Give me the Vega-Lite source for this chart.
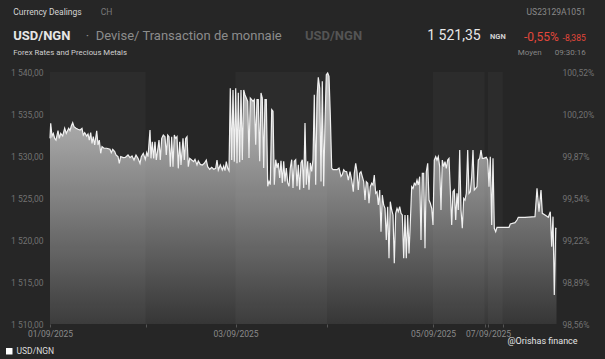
{
"$schema":"https://vega.github.io/schema/vega-lite/v6.json",
"width":507,"height":252,
"autosize":{"type":"none"},
"padding":{"left":50,"top":72,"right":48,"bottom":35},
"background":"#262626",
"config":{"view":{"stroke":null},"font":"Roboto"},
"datasets":{
"series":[
{"t":0,"v":1532.10},{"t":0.7,"v":1533.89},{"t":2,"v":1532.38},{"t":3.3,"v":1532.70},{"t":4.7,"v":1532.10},{"t":6,"v":1531.90},{"t":8,"v":1533.01},{"t":9.3,"v":1532.10},{"t":10.7,"v":1532.70},{"t":12.7,"v":1532.38},{"t":14.7,"v":1533.30},{"t":16.3,"v":1532.70},{"t":18.7,"v":1533.30},{"t":20,"v":1533.01},{"t":21.3,"v":1533.57},{"t":22.7,"v":1533.97},{"t":24,"v":1533.49},{"t":26,"v":1533.30},{"t":28,"v":1533.18},{"t":30,"v":1533.10},{"t":32,"v":1533.30},{"t":33.3,"v":1532.50},{"t":34.7,"v":1532.78},{"t":36.7,"v":1532.38},{"t":38,"v":1532.62},{"t":39.3,"v":1531.90},{"t":40.7,"v":1532.78},{"t":42,"v":1531.51},{"t":43.3,"v":1532.30},{"t":44.7,"v":1531.31},{"t":46.7,"v":1533.01},{"t":48,"v":1531.31},{"t":49.3,"v":1531.90},{"t":50.7,"v":1530.32},{"t":52,"v":1531.11},{"t":54,"v":1530.92},{"t":56.7,"v":1530.92},{"t":60,"v":1530.80},{"t":61.3,"v":1530.40},{"t":62.7,"v":1530.80},{"t":64.7,"v":1530.52},{"t":66,"v":1530.12},{"t":68,"v":1529.92},{"t":69.3,"v":1529.13},{"t":70.7,"v":1529.92},{"t":73.3,"v":1529.80},{"t":75.3,"v":1529.84},{"t":78,"v":1530.12},{"t":80,"v":1529.80},{"t":82,"v":1530.00},{"t":84,"v":1529.52},{"t":86,"v":1530.12},{"t":88,"v":1529.72},{"t":90,"v":1529.13},{"t":91.3,"v":1529.92},{"t":93.3,"v":1530.32},{"t":95.3,"v":1529.60},{"t":96.7,"v":1530.40},{"t":98,"v":1529.92},
{"t":100,"v":1533.10},{"t":101,"v":1529.72},{"t":102.3,"v":1531.70},{"t":103.7,"v":1529.72},{"t":105,"v":1531.70},{"t":106.3,"v":1529.52},{"t":107.7,"v":1530.71},{"t":109,"v":1531.90},{"t":110.3,"v":1529.52},{"t":111.7,"v":1532.10},{"t":113.3,"v":1532.50},{"t":115,"v":1532.30},{"t":116.3,"v":1530.12},{"t":117.7,"v":1532.50},{"t":119,"v":1532.30},{"t":120.3,"v":1528.73},{"t":121.7,"v":1532.30},{"t":123,"v":1528.73},{"t":124.3,"v":1532.50},{"t":125.7,"v":1532.10},{"t":127,"v":1532.30},{"t":128.3,"v":1528.53},{"t":129.7,"v":1531.70},{"t":131,"v":1528.93},{"t":133,"v":1532.10},{"t":134.3,"v":1529.52},{"t":135.7,"v":1532.10},{"t":137,"v":1532.30},{"t":138.3,"v":1528.73},{"t":139.7,"v":1529.72},{"t":141.7,"v":1529.52},{"t":143.7,"v":1529.33},{"t":145,"v":1529.60},{"t":147,"v":1528.93},{"t":148.3,"v":1529.40},{"t":150.3,"v":1529.00},{"t":152.3,"v":1528.93},{"t":154.3,"v":1529.13},{"t":156.3,"v":1529.52},{"t":157.7,"v":1528.73},{"t":159.7,"v":1528.42},{"t":161.7,"v":1528.65},{"t":163.7,"v":1528.42},{"t":165.7,"v":1528.53},{"t":167,"v":1529.52},{"t":168.3,"v":1528.33},{"t":170.3,"v":1528.93},{"t":172.3,"v":1528.33},{"t":173.7,"v":1528.81},{"t":175,"v":1528.25},{"t":176.3,"v":1529.33},{"t":177.7,"v":1528.53},{"t":179,"v":1528.25},{"t":180.3,"v":1538.06},{"t":181.7,"v":1529.52},{"t":183,"v":1537.86},{"t":184.3,"v":1529.33},{"t":185.7,"v":1538.06},{"t":187,"v":1529.13},{"t":188.3,"v":1537.54},{"t":189.7,"v":1529.25},{"t":191,"v":1537.86},{"t":192.3,"v":1529.52},{"t":193.7,"v":1537.86},{"t":195,"v":1537.26},
{"t":196.3,"v":1536.90},{"t":197.7,"v":1536.51},{"t":199,"v":1529.76},{"t":200.3,"v":1536.90},{"t":201.7,"v":1536.70},{"t":203,"v":1536.51},{"t":204.3,"v":1536.70},{"t":205.7,"v":1531.35},{"t":207,"v":1536.70},{"t":208.3,"v":1536.70},{"t":209.7,"v":1529.37},{"t":211,"v":1537.50},{"t":212.3,"v":1536.90},{"t":213.7,"v":1528.57},{"t":215,"v":1536.70},{"t":216.3,"v":1536.70},{"t":217.7,"v":1526.39},{"t":219,"v":1526.98},{"t":220.3,"v":1526.59},{"t":221.7,"v":1535.51},{"t":223,"v":1535.32},{"t":224.3,"v":1526.59},{"t":225.7,"v":1529.56},{"t":227,"v":1528.57},{"t":228.3,"v":1529.17},{"t":229.7,"v":1527.38},{"t":231,"v":1529.44},{"t":232.3,"v":1526.79},{"t":233.7,"v":1529.37},{"t":235,"v":1526.98},{"t":236.3,"v":1528.57},{"t":237.7,"v":1526.79},{"t":239,"v":1526.39},{"t":240.3,"v":1528.57},{"t":241.7,"v":1529.56},{"t":243,"v":1526.19},{"t":244.3,"v":1529.37},{"t":245.7,"v":1529.56},{"t":247,"v":1526.39},{"t":248.3,"v":1528.96},{"t":249.7,"v":1525.99},{"t":251,"v":1529.17},{"t":252.3,"v":1529.56},{"t":253.7,"v":1526.19},{"t":255,"v":1533.93},{"t":256.3,"v":1526.59},{"t":257.7,"v":1529.37},{"t":259,"v":1525.99},{"t":260.3,"v":1529.17},{"t":261.7,"v":1528.17},{"t":263,"v":1529.56},{"t":264.3,"v":1537.30},{"t":265.7,"v":1526.59},{"t":267,"v":1536.90},{"t":268.3,"v":1539.37},{"t":269.7,"v":1538.10},{"t":271,"v":1526.98},{"t":272.3,"v":1538.89},{"t":273.7,"v":1526.39},{"t":275,"v":1533.93},{"t":276.3,"v":1539.68},{"t":277.7,"v":1539.88},{"t":279,"v":1539.49},{"t":280.3,"v":1534.92},{"t":281.7,"v":1528.57},{"t":283,"v":1528.37},{"t":285,"v":1528.37},{"t":287,"v":1528.37},{"t":289,"v":1528.57},{"t":291,"v":1527.58},{"t":292.3,"v":1527.78},{"t":293.7,"v":1528.37},{"t":295,"v":1528.17},
{"t":296.7,"v":1528.13},{"t":298.3,"v":1527.14},{"t":300,"v":1528.13},{"t":301.7,"v":1527.14},{"t":303.3,"v":1525.75},{"t":304.3,"v":1527.94},{"t":305.7,"v":1529.13},{"t":307,"v":1528.13},{"t":308.3,"v":1525.95},{"t":309.7,"v":1527.94},{"t":311,"v":1528.13},{"t":312.3,"v":1527.54},{"t":313.7,"v":1526.94},{"t":315,"v":1524.76},{"t":316.3,"v":1526.94},{"t":317.7,"v":1526.75},{"t":319,"v":1524.37},{"t":320.3,"v":1526.35},{"t":321.7,"v":1526.75},{"t":323,"v":1526.55},{"t":324.3,"v":1527.74},{"t":325.7,"v":1525.56},{"t":327,"v":1525.75},{"t":328.3,"v":1524.17},{"t":329.7,"v":1525.95},{"t":331,"v":1520.99},{"t":332.3,"v":1525.36},{"t":333.7,"v":1524.17},{"t":335,"v":1523.77},{"t":336.3,"v":1520.00},{"t":337.7,"v":1523.97},{"t":339,"v":1517.82},{"t":340.3,"v":1524.56},{"t":341.7,"v":1523.57},{"t":343,"v":1522.98},{"t":344.3,"v":1517.22},{"t":345.7,"v":1523.18},{"t":347,"v":1523.77},{"t":348.3,"v":1523.37},{"t":349.7,"v":1523.97},{"t":351,"v":1523.18},{"t":352.3,"v":1522.98},{"t":353.7,"v":1517.82},{"t":355,"v":1522.98},{"t":356.3,"v":1517.82},{"t":357.7,"v":1522.98},{"t":359,"v":1518.41},{"t":360.3,"v":1521.99},{"t":361.7,"v":1526.35},{"t":363,"v":1526.15},{"t":364.3,"v":1526.75},{"t":365.7,"v":1526.55},{"t":367,"v":1527.14},{"t":368.3,"v":1526.55},{"t":369.7,"v":1527.54},{"t":371,"v":1520.00},{"t":372.3,"v":1527.94},{"t":373.7,"v":1527.94},{"t":375,"v":1519.01},{"t":376.3,"v":1528.13},{"t":377.7,"v":1529.13},{"t":379,"v":1524.76},{"t":380.3,"v":1524.37},{"t":381.7,"v":1523.77},{"t":383,"v":1521.79},{"t":384.3,"v":1529.52},{"t":385.7,"v":1529.92},{"t":387,"v":1529.52},{"t":388.3,"v":1529.92},{"t":389.7,"v":1528.73},{"t":391,"v":1523.57},{"t":392.3,"v":1529.52},{"t":393.7,"v":1528.73},{"t":395,"v":1529.33},
{"t":396.3,"v":1528.53},{"t":397.7,"v":1529.52},{"t":399,"v":1529.72},{"t":400.3,"v":1525.95},{"t":401.7,"v":1521.79},{"t":403,"v":1525.75},{"t":404.3,"v":1525.95},{"t":405.7,"v":1522.38},{"t":407,"v":1525.56},{"t":408.3,"v":1523.57},{"t":409.7,"v":1530.71},{"t":411,"v":1523.57},{"t":412.3,"v":1521.39},{"t":413.7,"v":1524.96},{"t":415,"v":1524.76},{"t":416.3,"v":1525.56},{"t":417.7,"v":1530.71},{"t":419,"v":1525.56},{"t":420.3,"v":1525.75},{"t":421.7,"v":1527.54},{"t":423,"v":1530.71},{"t":424.3,"v":1525.95},{"t":425.7,"v":1526.15},{"t":427,"v":1526.35},{"t":428.3,"v":1529.52},{"t":429.7,"v":1529.72},{"t":431,"v":1530.71},{"t":432.3,"v":1529.72},{"t":433.7,"v":1529.72},{"t":436.3,"v":1529.84},{"t":437.7,"v":1529.52},{"t":439,"v":1526.35},{"t":440.3,"v":1529.92},{"t":441.7,"v":1521.79},{"t":443,"v":1529.72},{"t":444.3,"v":1521.39},{"t":445.7,"v":1520.99},{"t":447,"v":1521.51},{"t":451.7,"v":1521.51},{"t":459,"v":1521.51},{"t":460.3,"v":1521.90},{"t":465,"v":1522.06},{"t":467,"v":1522.38},{"t":468.3,"v":1522.70},{"t":475,"v":1522.70},{"t":485,"v":1522.78},{"t":487,"v":1526.15},{"t":489,"v":1523.37},{"t":491,"v":1525.95},{"t":492.3,"v":1523.18},{"t":495,"v":1522.98},{"t":498.3,"v":1522.70},{"t":500.3,"v":1523.37},{"t":501.7,"v":1519.21},{"t":503,"v":1522.78},{"t":504.3,"v":1513.45},{"t":505.7,"v":1521.39},{"t":506.5,"v":1521.35}
],
"bands":[{"a":0,"b":95.5},{"a":185.5,"b":277},{"a":383,"b":434.5},{"a":438,"b":452.7}]
},
"resolve":{"axis":{"x":"independent","y":"independent"}},
"layer":[
{"data":{"name":"series"},
 "mark":{"type":"area","interpolate":"linear","clip":true,"fillOpacity":1,"fill":{"gradient":"linear","x1":0,"y1":0,"x2":0,"y2":1,"stops":[{"offset":0,"color":"#c4c4c4"},{"offset":1,"color":"#363636"}]}},
 "encoding":{
  "x":{"field":"t","type":"quantitative","scale":{"domain":[0,507],"nice":false,"zero":false},
   "axis":{"title":null,"values":[0,95.5,185.5,277,383,434.5,438,452.7],"labelExpr":"datum.value==0?'01/09/2025':datum.value==185.5?'03/09/2025':datum.value==383?'05/09/2025':datum.value==438?'07/09/2025':''","domain":false,"grid":false,"tickColor":"#555555","tickSize":3,"labelColor":"#8a8a8a","labelFontSize":8.5,"labelFont":"Roboto","labelPadding":2,"labelOverlap":false,"labelBound":false,"labelFlush":false,"zindex":2}},
  "y":{"field":"v","type":"quantitative","scale":{"domain":[1510,1540],"nice":false,"zero":false},
   "axis":{"title":null,"values":[1510,1515,1520,1525,1530,1535,1540],"labelExpr":"replace(replace(format(datum.value, ',.2f'), ',', ' '), '.', ',')","ticks":false,"domain":false,"grid":false,"labelColor":"#727272","labelFontSize":8.5,"labelFont":"Roboto","labelPadding":7}},
  "y2":{"datum":1510}
 }},
{"data":{"name":"bands"},
 "mark":{"type":"rect","color":"#ffffff","opacity":0.03},
 "encoding":{"x":{"field":"a","type":"quantitative","axis":null},"x2":{"field":"b"}}},
{"data":{"name":"series"},
 "mark":{"type":"line","interpolate":"linear","strokeWidth":1.2},
 "encoding":{
  "x":{"field":"t","type":"quantitative","axis":null},
  "y":{"field":"v","type":"quantitative",
   "axis":{"orient":"right","title":null,"values":[1510,1515,1520,1525,1530,1535,1540],"labelExpr":"replace(format(datum.value/1532*100, '.2f'), '.', ',') + '%'","ticks":false,"domain":false,"grid":false,"labelColor":"#727272","labelFontSize":8.5,"labelFont":"Roboto","labelPadding":5}},
  "color":{"datum":"USD/NGN","scale":{"range":["#f0f0f0"]},
   "legend":{"orient":"none","legendX":-45,"legendY":275,"title":null,"symbolType":"square","symbolSize":42,"symbolFillColor":"#ffffff","symbolStrokeColor":"#ffffff","symbolStrokeWidth":0,"labelColor":"#dddddd","labelFontSize":8.5,"labelFont":"Roboto","labelOffset":3}}
 }},
{"data":{"values":[{"label":"Currency Dealings"}]},"mark":{"type":"text","align":"left","baseline":"middle","fontSize":8.5,"color":"#d4d4d4"},"encoding":{"x":{"datum":-36.7,"type":"quantitative","axis":null},"y":{"datum":1547.11,"type":"quantitative","axis":null},"text":{"field":"label"}}},
{"data":{"values":[{"label":"CH"}]},"mark":{"type":"text","align":"left","baseline":"middle","fontSize":8.5,"color":"#7a7a7a"},"encoding":{"x":{"datum":50.7,"type":"quantitative","axis":null},"y":{"datum":1547.11,"type":"quantitative","axis":null},"text":{"field":"label"}}},
{"data":{"values":[{"label":"USD/NGN"}]},"mark":{"type":"text","align":"left","baseline":"middle","fontSize":13,"fontWeight":"bold","color":"#e6e6e6"},"encoding":{"x":{"datum":-36.7,"type":"quantitative","axis":null},"y":{"datum":1544.32,"type":"quantitative","axis":null},"text":{"field":"label"}}},
{"data":{"values":[{"label":"·"}]},"mark":{"type":"text","align":"center","baseline":"middle","fontSize":13,"color":"#8c8c8c"},"encoding":{"x":{"datum":37.5,"type":"quantitative","axis":null},"y":{"datum":1544.32,"type":"quantitative","axis":null},"text":{"field":"label"}}},
{"data":{"values":[{"label":"Devise/ Transaction de monnaie"}]},"mark":{"type":"text","align":"left","baseline":"middle","fontSize":13,"color":"#8c8c8c"},"encoding":{"x":{"datum":45.7,"type":"quantitative","axis":null},"y":{"datum":1544.32,"type":"quantitative","axis":null},"text":{"field":"label"}}},
{"data":{"values":[{"label":"USD/NGN"}]},"mark":{"type":"text","align":"left","baseline":"middle","fontSize":13,"fontWeight":"bold","color":"#545454"},"encoding":{"x":{"datum":255,"type":"quantitative","axis":null},"y":{"datum":1544.32,"type":"quantitative","axis":null},"text":{"field":"label"}}},
{"data":{"values":[{"label":"Forex Rates and Precious Metals"}]},"mark":{"type":"text","align":"left","baseline":"middle","fontSize":7.8,"color":"#d0d0d0"},"encoding":{"x":{"datum":-36.7,"type":"quantitative","axis":null},"y":{"datum":1542.30,"type":"quantitative","axis":null},"text":{"field":"label"}}},
{"data":{"values":[{"label":"US23129A1051"}]},"mark":{"type":"text","align":"right","baseline":"middle","fontSize":8.5,"color":"#8a8a8a"},"encoding":{"x":{"datum":535.7,"type":"quantitative","axis":null},"y":{"datum":1547.18,"type":"quantitative","axis":null},"text":{"field":"label"}}},
{"data":{"values":[{"label":"1 521,35"}]},"mark":{"type":"text","align":"right","baseline":"middle","fontSize":14,"color":"#e8e8e8"},"encoding":{"x":{"datum":430.7,"type":"quantitative","axis":null},"y":{"datum":1544.29,"type":"quantitative","axis":null},"text":{"field":"label"}}},
{"data":{"values":[{"label":"NGN"}]},"mark":{"type":"text","align":"left","baseline":"middle","fontSize":7.5,"fontWeight":"bold","color":"#d0d0d0"},"encoding":{"x":{"datum":440,"type":"quantitative","axis":null},"y":{"datum":1544.17,"type":"quantitative","axis":null},"text":{"field":"label"}}},
{"data":{"values":[{"label":"-0,55%"}]},"mark":{"type":"text","align":"left","baseline":"middle","fontSize":12,"color":"#e3473b"},"encoding":{"x":{"datum":474,"type":"quantitative","axis":null},"y":{"datum":1544.21,"type":"quantitative","axis":null},"text":{"field":"label"}}},
{"data":{"values":[{"label":"-8,385"}]},"mark":{"type":"text","align":"right","baseline":"middle","fontSize":8.5,"color":"#e3473b"},"encoding":{"x":{"datum":535.7,"type":"quantitative","axis":null},"y":{"datum":1544.05,"type":"quantitative","axis":null},"text":{"field":"label"}}},
{"data":{"values":[{"label":"Moyen"}]},"mark":{"type":"text","align":"left","baseline":"middle","fontSize":8,"color":"#858585"},"encoding":{"x":{"datum":467.7,"type":"quantitative","axis":null},"y":{"datum":1542.30,"type":"quantitative","axis":null},"text":{"field":"label"}}},
{"data":{"values":[{"label":"09:30:16"}]},"mark":{"type":"text","align":"right","baseline":"middle","fontSize":8,"color":"#858585"},"encoding":{"x":{"datum":535.7,"type":"quantitative","axis":null},"y":{"datum":1542.30,"type":"quantitative","axis":null},"text":{"field":"label"}}},
{"data":{"values":[{"label":"@Orishas finance"}]},"mark":{"type":"text","align":"center","baseline":"middle","fontSize":9,"color":"#e4e4e4"},"encoding":{"x":{"datum":492.5,"type":"quantitative","axis":null},"y":{"datum":1507.98,"type":"quantitative","axis":null},"text":{"field":"label"}}}
]
}
